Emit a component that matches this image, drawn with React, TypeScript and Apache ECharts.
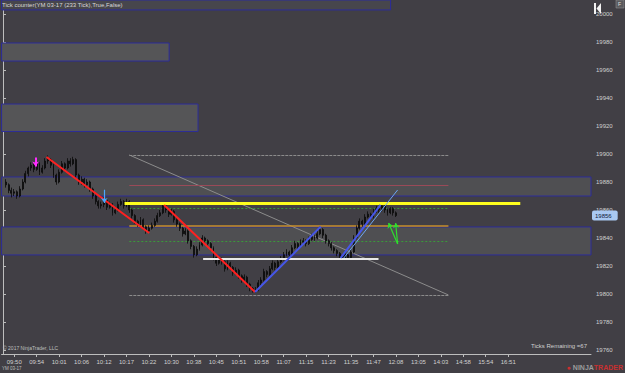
import React, { useEffect, useRef } from "react";
import * as echarts from "echarts";

// ---------- tick labels ----------
const timeLabels = ["09:50","09:54","10:01","10:06","10:12","10:17","10:22","10:30","10:38","10:45","10:51","10:58","11:07","11:15","11:23","11:35","11:47","12:08","13:05","14:03","14:58","15:54","16:51"];
const priceTicks = [20000,19980,19960,19940,19920,19900,19880,19860,19840,19820,19800,19780,19760];
const slotCount = 210;
const firstLabelSlot = 4;
const labelEvery = 8;
const firstBarSlot = 1;

// ---------- bars (233 tick) ----------
const firstOpen = 19880;
const closes = [19878,19874,19872,19873,19870,19875,19880,19886,19890,19892,19889,19893,19887,19890,19895,19896,19892,19885,19880,19887,19893,19890,19895,19893,19896,19885,19880,19882,19878,19880,19875,19870,19866,19863,19864,19867,19862,19864,19858,19860,19864,19866,19863,19866,19860,19856,19852,19850,19853,19848,19845,19847,19849,19852,19856,19858,19863,19860,19857,19859,19853,19850,19847,19843,19845,19838,19834,19828,19832,19835,19840,19838,19836,19833,19826,19822,19825,19823,19818,19822,19819,19815,19817,19813,19810,19812,19807,19804,19802,19803,19808,19810,19816,19814,19818,19822,19819,19823,19825,19828,19830,19828,19833,19836,19834,19837,19838,19836,19839,19841,19840,19843,19846,19842,19838,19836,19833,19831,19829,19827,19826,19828,19826,19830,19840,19847,19852,19850,19855,19857,19855,19859,19861,19860,19863,19860,19858,19861,19858,19856];
const lows = [19876,19872,19869,19870,19868,19869,19874,19879,19884,19888,19887,19888,19885,19886,19889,19893,19890,19883,19878,19879,19886,19888,19889,19891,19892,19883,19878,19878,19876,19877,19873,19868,19864,19861,19861,19862,19860,19861,19856,19857,19859,19863,19861,19862,19858,19854,19850,19848,19849,19846,19843,19844,19846,19848,19851,19855,19857,19858,19855,19856,19851,19848,19845,19841,19842,19836,19832,19826,19827,19831,19834,19836,19834,19831,19824,19820,19821,19821,19816,19817,19817,19813,19814,19811,19808,19809,19805,19802,19801,19801,19802,19806,19809,19812,19813,19817,19817,19818,19822,19824,19827,19826,19827,19832,19832,19833,19836,19834,19835,19838,19838,19839,19842,19840,19836,19834,19831,19829,19827,19825,19825,19825,19825,19825,19829,19839,19846,19848,19849,19854,19853,19854,19858,19858,19859,19858,19856,19857,19856,19855];
const highs = [19882,19879,19876,19875,19874,19877,19882,19888,19891,19894,19893,19896,19894,19892,19897,19899,19897,19893,19886,19889,19895,19894,19897,19897,19898,19897,19886,19884,19883,19882,19881,19876,19871,19867,19866,19869,19868,19866,19865,19862,19866,19868,19867,19868,19867,19861,19857,19853,19855,19854,19849,19849,19851,19854,19858,19860,19865,19864,19861,19861,19860,19854,19851,19848,19847,19846,19839,19835,19834,19837,19842,19841,19839,19837,19834,19827,19827,19826,19824,19824,19823,19820,19819,19818,19814,19814,19813,19808,19805,19805,19810,19812,19818,19817,19820,19824,19823,19825,19827,19830,19832,19831,19835,19838,19837,19839,19840,19839,19841,19843,19842,19845,19848,19847,19843,19839,19837,19834,19832,19830,19828,19829,19829,19832,19842,19849,19854,19853,19857,19859,19858,19861,19863,19862,19865,19864,19861,19862,19862,19859];
const lastPrice = 19856;

// ---------- zones [xFrom, xTo, priceTop, priceBottom] (slot units) ----------
const titleZone = [[-0.5, 138.1, 20010, 20002.9]];
const boxZones = [[-0.5, 59.2, 19979.3, 19966.4], [-0.5, 69.5, 19935.7, 19916.1]];
const bandZones = [[-0.5, 209.5, 19883.6, 19870.0], [-0.5, 209.5, 19847.9, 19827.9]];

// ---------- drawing tools [[slot, price], [slot, price]] ----------
const redTrend = [[[15.5, 19897.9], [52.1, 19843.6]], [[57.4, 19863.6], [89.8, 19801.4]]];
const blueTrend = [[[89.8, 19801.4], [113.2, 19848.1]], [[120.3, 19825.7], [134.5, 19863.6]]];
const lightBlueRay = [[[121.4, 19825.7], [140.6, 19874.3]]];
const greenArrows = [[[140.6, 19835.7], [137.4, 19850.7]], [[140.6, 19835.7], [139.9, 19850.7]]];
const yellowLevel = [[[43.3, 19864.5], [184.3, 19864.5]]];
const grayLevels = [[[45.0, 19899.3], [158.7, 19899.3]], [[45.0, 19799.3], [158.7, 19799.3]]];
const grayDiagonal = [[[45.0, 19899.3], [158.7, 19799.3]]];
const redThinLevel = [[[45.0, 19877.9], [158.7, 19877.9]]];
const greenDotLevels = [[[45.0, 19861.4], [158.7, 19861.4]], [[45.0, 19837.9], [158.7, 19837.9]]];
const orangeLevel = [[[45.0, 19849.1], [158.7, 19849.1]]];
const whiteLevel = [[[71.3, 19825.2], [133.8, 19825.2]]];
const magentaMarker = [[[11.6, 19897.5], [11.6, 19891]]];
const blueMarker = [[[36.1, 19874.5], [36.1, 19865]]];

const Y_MAX = 20010;
const Y_MIN = 19757.142857;

export default function App() {
  const ref = useRef<HTMLDivElement>(null);
  useEffect(() => {
    if (!ref.current) return;
    const chart = echarts.init(ref.current, null, { renderer: "svg" });

    const categories: string[] = [];
    for (let i = 0; i < slotCount; i++) {
      const k = (i - firstLabelSlot) / labelEvery;
      categories.push(Number.isInteger(k) && k >= 0 && k < timeLabels.length ? timeLabels[k] : "");
    }
    const candleData: any[] = [];
    for (let i = 0; i < firstBarSlot; i++) candleData.push(["-", "-", "-", "-"]);
    closes.forEach((c, i) => {
      const o = i === 0 ? firstOpen : closes[i - 1];
      candleData.push([o, c, lows[i], highs[i]]);
    });

    const zoneSeries = (data: number[][], fill: string, stroke: string, z: number) => ({
      type: "custom",
      xAxisIndex: 1,
      yAxisIndex: 0,
      silent: true,
      z,
      data,
      renderItem: (_p: any, api: any) => {
        const a = api.coord([api.value(0), api.value(2)]);
        const b = api.coord([api.value(1), api.value(3)]);
        return {
          type: "rect",
          shape: { x: a[0], y: a[1], width: b[0] - a[0], height: b[1] - a[1] },
          style: { fill, stroke, lineWidth: 1 },
        };
      },
    });

    const linesSeries = (segs: number[][][], color: string, width: number, type: any = "solid", z = 5, arrow = false) => ({
      type: "lines",
      coordinateSystem: "cartesian2d",
      xAxisIndex: 1,
      yAxisIndex: 0,
      silent: true,
      z,
      symbol: arrow ? ["none", "arrow"] : ["none", "none"],
      symbolSize: 5,
      lineStyle: { color, width, type, opacity: 1 },
      data: segs.map((s) => ({ coords: s })),
    });

    const font = "Liberation Sans, Arial, sans-serif";

    chart.setOption({
      animation: false,
      backgroundColor: "#413f45",
      grid: { left: 0, right: 34, top: 0, bottom: 19, containLabel: false },
      xAxis: [
        {
          type: "category",
          data: categories,
          boundaryGap: true,
          axisLine: { show: true, lineStyle: { color: "#bdbdbd", width: 1 } },
          axisTick: {
            show: true,
            alignWithLabel: true,
            length: 3,
            interval: (_i: number, v: string) => v !== "",
            lineStyle: { color: "#bdbdbd" },
          },
          axisLabel: { interval: 0, color: "#d0d0d0", fontSize: 6, fontFamily: font, margin: 5 },
          splitLine: { show: false },
        },
        { type: "value", min: -0.5, max: slotCount - 0.5, show: false },
      ],
      yAxis: {
        type: "value",
        position: "right",
        min: Y_MIN,
        max: Y_MAX,
        axisLine: { show: true, lineStyle: { color: "#bdbdbd", width: 1 } },
        axisTick: { show: true, length: 3, customValues: priceTicks, lineStyle: { color: "#bdbdbd" } },
        axisLabel: {
          customValues: priceTicks,
          formatter: (v: number) => String(Math.round(v)),
          color: "#d0d0d0",
          fontSize: 6,
          fontFamily: font,
          margin: 5,
        },
        splitLine: { show: false },
      },
      series: [
        zoneSeries(titleZone, "#47464c", "#2c2c9a", 1),
        zoneSeries(boxZones, "#555557", "#2c2c9a", 1),
        zoneSeries(bandZones, "#4f4f52", "#2c2c9a", 1),
        linesSeries(grayLevels, "#8c8c8c", 1, [3, 1], 3),
        linesSeries(grayDiagonal, "#8c8c8c", 1, "solid", 3),
        linesSeries(redThinLevel, "#9a4a58", 1, "solid", 3),
        linesSeries(greenDotLevels, "#3a9a3a", 1, [2, 2], 3),
        linesSeries(orangeLevel, "#c8902a", 1.5, "solid", 3),
        {
          type: "candlestick",
          xAxisIndex: 0,
          yAxisIndex: 0,
          data: candleData,
          barWidth: 1.4,
          z: 4,
          itemStyle: { color: "#141414", color0: "#141414", borderColor: "#0a0a0a", borderColor0: "#0a0a0a", borderWidth: 0.8 },
          markLine: {
            silent: true,
            symbol: ["none", "none"],
            lineStyle: { color: "rgba(0,0,0,0)", width: 0 },
            data: [{ yAxis: lastPrice }],
            label: {
              show: true,
              position: "end",
              distance: 1,
              formatter: String(lastPrice),
              backgroundColor: "#a9c9f2",
              color: "#10203a",
              fontSize: 6,
              fontFamily: font,
              padding: [2, 6, 2, 3],
              borderRadius: 2,
            },
          },
        },
        linesSeries(yellowLevel, "#ffff1e", 3, "solid", 6),
        linesSeries(whiteLevel, "#e8e8e8", 2, "solid", 6),
        linesSeries(redTrend, "#ff2020", 2, "solid", 7),
        linesSeries(blueTrend, "#4656e8", 2, "solid", 7),
        linesSeries(lightBlueRay, "#6ea6f5", 1, "solid", 7),
        linesSeries(greenArrows, "#2ee02e", 1.2, "solid", 7, true),
        linesSeries(magentaMarker, "#ff2cff", 2, "solid", 7, true),
        linesSeries(blueMarker, "#4aa8ff", 1.2, "solid", 7, true),
      ],
      graphic: [
        { type: "text", left: 2, top: 2, z: 50, style: { text: "Tick counter(YM 03-17 (233 Tick),True,False)", fill: "#d8d8d8", fontSize: 6, fontFamily: font } },
        { type: "text", left: 3, top: 345, z: 50, style: { text: "© 2017 NinjaTrader, LLC", fill: "#bfbfbf", fontSize: 5, fontFamily: font } },
        { type: "text", right: 38, top: 343, z: 50, style: { text: "Ticks Remaining =67", fill: "#d0d0d0", fontSize: 6, fontFamily: font } },
        { type: "text", left: 2, top: 366, z: 50, style: { text: "YM 03-17", fill: "#bfbfbf", fontSize: 4.5, fontFamily: font } },
        {
          type: "text", right: 2, top: 364, z: 50,
          style: {
            text: "{i|●}{a|NINJA}{b|TRADER}",
            fontFamily: font,
            rich: {
              i: { fill: "#c83030", fontSize: 7, padding: [0, 2, 0, 0] },
              a: { fill: "#9c9c9c", fontSize: 7, fontWeight: "bold" },
              b: { fill: "#c83030", fontSize: 7, fontWeight: "bold" },
            },
          },
        },
        // scroll-to-end icon
        {
          type: "group", left: 594, top: 3, z: 60,
          children: [
            { type: "rect", shape: { x: 0, y: 0, width: 2, height: 11 }, style: { fill: "#f2f2f2" }, z: 60 },
            { type: "polygon", shape: { points: [[2.5, 5.5], [7, 0], [7, 11]] }, style: { fill: "#f2f2f2" }, z: 60 },
          ],
        },
        // F box
        { type: "rect", shape: { x: 616, y: 0, width: 8, height: 8 }, style: { fill: "#5a5a5e", stroke: "#9a9a9a", lineWidth: 0.5 }, z: 50 },
        { type: "text", left: 618, top: 1, z: 51, style: { text: "F", fill: "#e0e0e0", fontSize: 5, fontFamily: font } },
      ],
    } as any);
    return () => chart.dispose();
  }, []);
  return <div ref={ref} style={{ position: "fixed", left: 0, top: 0, width: 625, height: 373 }} />;
}
